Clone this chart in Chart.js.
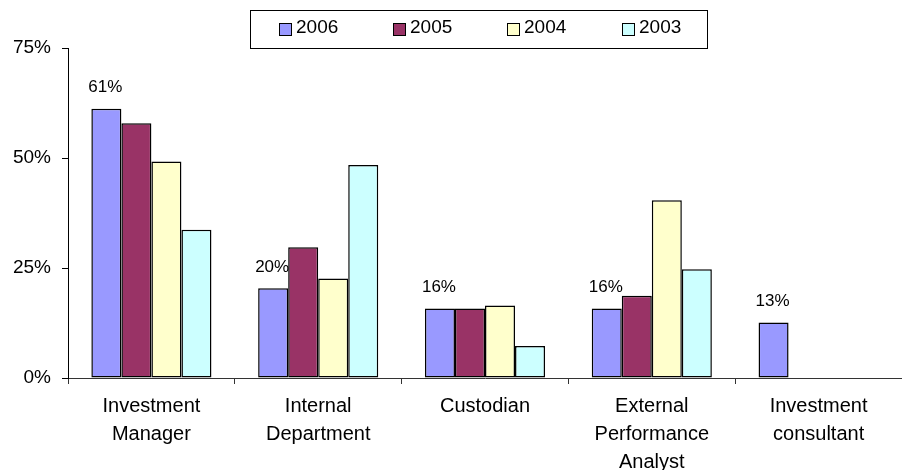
<!DOCTYPE html>
<html>
<head>
<meta charset="utf-8">
<script src="https://cdn.jsdelivr.net/npm/chart.js@4.4.1/dist/chart.umd.min.js"></script>
<style>
html,body{margin:0;padding:0;background:#fff;}
#wrap{width:902px;height:470px;position:relative;}
</style>
</head>
<body>
<div id="wrap"><canvas id="c"></canvas></div>
<script>
const categories = [["Investment","Manager"],["Internal","Department"],["Custodian"],["External","Performance","Analyst"],["Investment","consultant"]];
const seriesNames = ["2006","2005","2004","2003"];
const values2006 = [61.2, 20.4, 15.8, 15.8, 12.6];
const values2005 = [57.9, 29.7, 15.8, 18.7, null];
const values2004 = [49.2, 22.6, 16.5, 40.4, null];
const values2003 = [33.7, 48.4, 7.3, 24.7, null];
const yTicks = [0, 25, 50, 75];
const colors = ["#9999FF","#993366","#FFFFCC","#CCFFFF"];

const FONT = "'Liberation Sans', Arial, sans-serif";

const legendPlugin = {
  id: 'boxLegend',
  afterDraw(chart) {
    const ctx = chart.ctx;
    ctx.save();
    ctx.strokeStyle = '#000';
    ctx.lineWidth = 1;
    ctx.strokeRect(250.5, 10.5, 457, 38);
    const xs = [279, 393, 507, 622];
    ctx.font = '19px ' + FONT;
    ctx.textBaseline = 'middle';
    ctx.textAlign = 'left';
    chart.data.datasets.forEach((ds, i) => {
      ctx.fillStyle = ds.backgroundColor;
      ctx.fillRect(xs[i] + 0.5, 23.5, 12, 12);
      ctx.strokeStyle = '#000';
      ctx.strokeRect(xs[i] + 0.5, 23.5, 12, 12);
      ctx.fillStyle = '#000';
      ctx.fillText(ds.label, xs[i] + 17, 27.5);
    });
    ctx.restore();
  }
};

const dataLabelPlugin = {
  id: 'dataLabels',
  afterDatasetsDraw(chart) {
    const ctx = chart.ctx;
    const meta = chart.getDatasetMeta(0);
    ctx.save();
    ctx.font = '17px ' + FONT;
    ctx.fillStyle = '#000';
    ctx.textAlign = 'center';
    ctx.textBaseline = 'middle';
    meta.data.forEach((bar, i) => {
      const v = chart.data.datasets[0].data[i];
      if (v == null) return;
      ctx.fillText(Math.round(v) + '%', bar.x - 1, bar.y - 21);
    });
    ctx.restore();
  }
};

new Chart(document.getElementById('c'), {
  type: 'bar',
  data: {
    labels: categories,
    datasets: [values2006, values2005, values2004, values2003].map((d, i) => ({
      label: seriesNames[i],
      data: d,
      backgroundColor: colors[i],
      borderColor: '#000',
      borderWidth: 1.5,
      borderSkipped: false,
      categoryPercentage: 0.72,
      barPercentage: 1.0
    }))
  },
  options: {
    responsive: true,
    maintainAspectRatio: false,
    animation: false,
    devicePixelRatio: 1,
    layout: { padding: { top: 48, right: 0, left: 0, bottom: 0 } },
    plugins: { legend: { display: false }, tooltip: { enabled: false } },
    scales: {
      x: {
        afterFit(scale) { scale.height = 92; },
        grid: { display: true, drawOnChartArea: false, drawTicks: true, tickLength: 6, color: '#333', offset: true },
        border: { display: true, color: '#333', width: 1 },
        ticks: { color: '#000', font: { family: FONT, size: 20, lineHeight: 1.38 }, padding: 9, maxRotation: 0, autoSkip: false }
      },
      y: {
        min: 0, max: 75,
        afterFit(scale) { scale.width = 68; },
        afterBuildTicks(scale) { scale.ticks = yTicks.map(v => ({ value: v })); },
        grid: { display: true, drawOnChartArea: false, drawTicks: true, tickLength: 6, color: '#000' },
        border: { display: true, color: '#000', width: 1 },
        ticks: { color: '#000', font: { family: FONT, size: 19 }, padding: 11, callback: v => v + '%' }
      }
    }
  },
  plugins: [legendPlugin, dataLabelPlugin]
});
</script>
</body>
</html>
